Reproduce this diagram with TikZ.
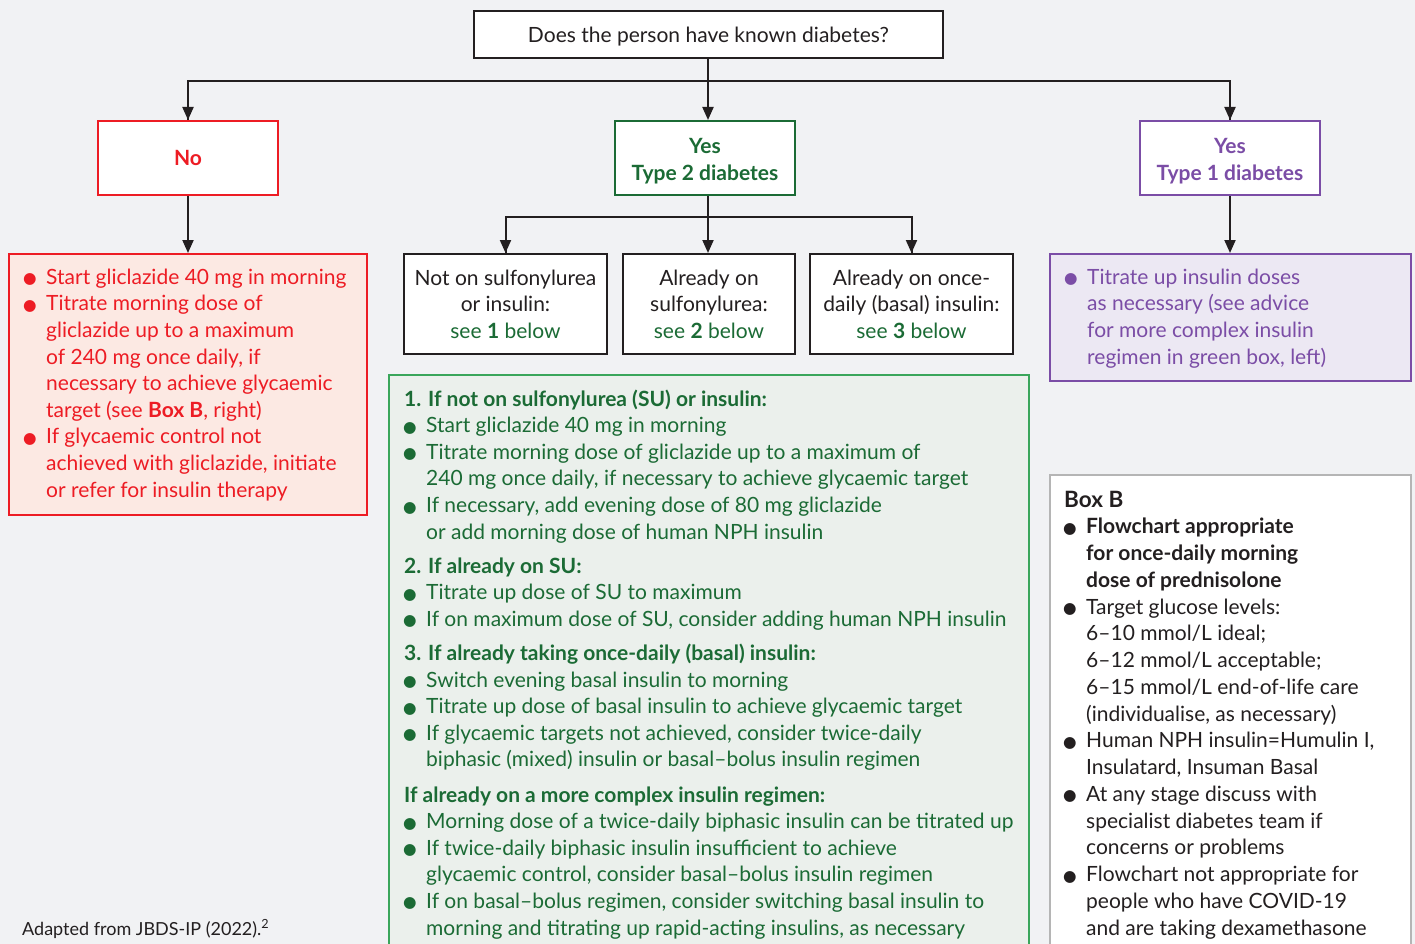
\documentclass[tikz,border=0pt]{standalone}
\usepackage{fontspec}
\setmainfont{Lato}
\newfontfamily\symf{DejaVu Sans}
\usetikzlibrary{arrows.meta}
\definecolor{bgc}{HTML}{F1F2F4}
\definecolor{dk}{HTML}{231F20}
\definecolor{rd}{HTML}{ED1C24}
\definecolor{rdfill}{HTML}{FCE9E3}
\definecolor{gtext}{HTML}{1B6B35}
\definecolor{gline}{HTML}{3AA65B}
\definecolor{gfill}{HTML}{EBF0EC}
\definecolor{pu}{HTML}{7B4DA6}
\definecolor{pufill}{HTML}{ECE8F3}
\definecolor{graybd}{HTML}{B5B5B5}
\newcommand\bul{\makebox[22pt][l]{\hspace*{-1pt}\raisebox{0.5pt}{\symf\fontsize{15.5}{15.5}\selectfont ●}}}
\newcommand\ind{\hspace*{22pt}}
\tikzset{
  box/.style={draw, line width=2pt, fill=white, inner sep=0pt, anchor=north west},
  conn/.style={draw=dk, line width=2pt},
  arr/.style={conn, -{Triangle[length=13pt,width=11pt]}},
  txt/.style={inner sep=0pt, anchor=base west, align=left, font=\fontsize{21}{26.6}\selectfont},
  ctxt/.style={inner sep=0pt, align=center, font=\fontsize{21}{26.6}\selectfont},
}
\begin{document}
\begin{tikzpicture}[x=1pt,y=-1pt]
\useasboundingbox (0,0) rectangle (1415,944);
\clip (0,0) rectangle (1415,944);
\fill[bgc] (0,0) rectangle (1415,944);
% top
\node[box, draw=dk, minimum width=469pt, minimum height=47pt] (q) at (473,10) {};
\node[ctxt, text=dk] (qt) at ([yshift=-2pt]q.center) {Does the person have known diabetes?};
% level 1
\node[box, draw=rd, minimum width=180pt, minimum height=74pt] (no) at (97,120) {};
\node[ctxt, text=rd, font=\fontsize{21}{26.6}\selectfont\bfseries] (not) at (no.center) {No};
\node[box, draw=gtext, minimum width=180pt, minimum height=74pt] (t2) at (614,120) {};
\node[ctxt, text=gtext, font=\fontsize{21}{26.6}\selectfont\bfseries] (t2t) at ([yshift=-3pt]t2.center) {Yes\\Type 2 diabetes};
\node[box, draw=pu, minimum width=180pt, minimum height=74pt] (t1) at (1139,120) {};
\node[ctxt, text=pu, font=\fontsize{21}{26.6}\selectfont\bfseries] (t1t) at ([yshift=-3pt]t1.center) {Yes\\Type 1 diabetes};
\coordinate (j) at (708,81);
\draw[conn] (q.south -| j) -- (j);
\draw[conn] (no.north) |- (j);
\draw[conn] (t1.north) |- (j);
\draw[arr] (no.north |- j) -- (no.north);
\draw[arr] (j) -- (j |- t2.north);
\draw[arr] (t1.north |- j) -- (t1.north);
% red box
\node[box, draw=rd, fill=rdfill, minimum width=358pt, minimum height=261pt] (rb) at (8,253) {};
\draw[arr] (no.south) -- (no.south |- rb.north);
\node[txt, text=rd] (rbt) at (24,497) {\bul Start gliclazide 40 mg in morning\\
\bul Titrate morning dose of\\
\ind gliclazide up to a maximum\\
\ind of 240 mg once daily, if\\
\ind necessary to achieve glycaemic\\
\ind target (see \textbf{Box B}, right)\\
\bul If glycaemic control not\\
\ind achieved with gliclazide, initiate\\
\ind or refer for insulin therapy};
% type 2 sub boxes
\node[box, draw=dk, minimum width=203pt, minimum height=100pt] (s1) at (403,253) {};
\node[box, draw=dk, minimum width=172pt, minimum height=100pt] (s2) at (622,253) {};
\node[box, draw=dk, minimum width=203pt, minimum height=100pt] (s3) at (809,253) {};
\coordinate (j2) at (708,217);
\draw[conn] (t2.south -| j2) -- (j2);
\draw[conn] (s1.north) |- (j2);
\draw[conn] (s3.north) |- (j2);
\draw[arr] (s1.north |- j2) -- (s1.north);
\draw[arr] (j2) -- (j2 |- s2.north);
\draw[arr] (s3.north |- j2) -- (s3.north);
\node[ctxt, text=dk] (s1t) at (s1.center) {Not on sulfonylurea\\or insulin:\\\textcolor{gtext}{see \textbf{1} below}};
\node[ctxt, text=dk] (s2t) at (s2.center) {Already on\\sulfonylurea:\\\textcolor{gtext}{see \textbf{2} below}};
\node[ctxt, text=dk] (s3t) at (s3.center) {Already on once-\\daily (basal) insulin:\\\textcolor{gtext}{see \textbf{3} below}};
% green box
\node[box, draw=gline, fill=gfill, minimum width=640pt, minimum height=620pt] (gb) at (388,374) {};
\node[txt, text=gtext] (gbt) at (404,935) {\textbf{1. If not on sulfonylurea (SU) or insulin:}\\
\bul Start gliclazide 40 mg in morning\\
\bul Titrate morning dose of gliclazide up to a maximum of\\
\ind 240 mg once daily, if necessary to achieve glycaemic target\\
\bul If necessary, add evening dose of 80 mg gliclazide\\
\ind or add morning dose of human NPH insulin\\[7.5pt]
\textbf{2. If already on SU:}\\
\bul Titrate up dose of SU to maximum\\
\bul If on maximum dose of SU, consider adding human NPH insulin\\[7.5pt]
\textbf{3. If already taking once-daily (basal) insulin:}\\
\bul Switch evening basal insulin to morning\\
\bul Titrate up dose of basal insulin to achieve glycaemic target\\
\bul If glycaemic targets not achieved, consider twice-daily\\
\ind biphasic (mixed) insulin or basal--bolus insulin regimen\\[8.5pt]
\textbf{If already on a more complex insulin regimen:}\\
\bul Morning dose of a twice-daily biphasic insulin can be titrated up\\
\bul If twice-daily biphasic insulin insufficient to achieve\\
\ind glycaemic control, consider basal--bolus insulin regimen\\
\bul If on basal--bolus regimen, consider switching basal insulin to\\
\ind morning and titrating up rapid-acting insulins, as necessary};
% purple box
\node[box, draw=pu, fill=pufill, minimum width=361pt, minimum height=127pt] (pb) at (1049,253) {};
\draw[arr] (t1.south) -- (t1.south |- pb.north);
\node[txt, text=pu] (pbt) at (1065,364) {\bul Titrate up insulin doses\\
\ind as necessary (see advice\\
\ind for more complex insulin\\
\ind regimen in green box, left)};
% box B
\node[box, draw=graybd, fill=white, line width=1.5pt, minimum width=361pt, minimum height=520pt] (bb) at (1049,474) {};
\node[txt, text=dk, font=\fontsize{21}{26.75}\selectfont] (bbt) at (1064,935) {{\fontsize{22.5}{26.75}\selectfont\textbf{Box B}}\\
\bul \textbf{Flowchart appropriate}\\
\ind \textbf{for once-daily morning}\\
\ind \textbf{dose of prednisolone}\\
\bul Target glucose levels:\\
\ind 6--10 mmol/L ideal;\\
\ind 6--12 mmol/L acceptable;\\
\ind 6--15 mmol/L end-of-life care\\
\ind (individualise, as necessary)\\
\bul Human NPH insulin=Humulin I,\\
\ind Insulatard, Insuman Basal\\
\bul At any stage discuss with\\
\ind specialist diabetes team if\\
\ind concerns or problems\\
\bul Flowchart not appropriate for\\
\ind people who have COVID-19\\
\ind and are taking dexamethasone};
\node[txt, text=dk, font=\fontsize{18}{20}\selectfont] (src) at (22,935) {Adapted from JBDS-IP (2022).\textsuperscript{2}};
\end{tikzpicture}
\end{document}
